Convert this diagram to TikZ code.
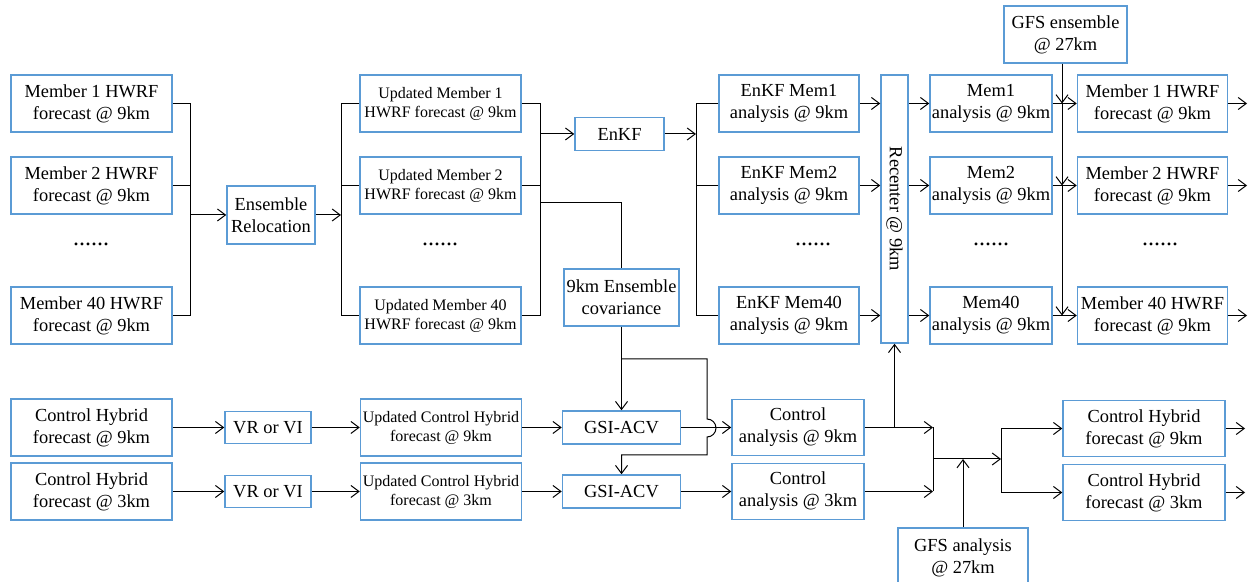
\documentclass[tikz,border=0pt]{standalone}
\usepackage{fontspec}
\setmainfont{Liberation Serif}
\newfontfamily\hbfont{Liberation Serif}
\usetikzlibrary{arrows.meta}
\definecolor{hbblue}{RGB}{91,155,213}
\tikzset{hbox/.style={draw=hbblue,line width=0.75pt,align=center,inner sep=0pt,
           font=\hbfont\fontsize{9.2}{11}\selectfont,minimum width=80.5pt,minimum height=28.5pt},
         hsmall/.style={hbox,font=\hbfont\fontsize{8}{9.5}\selectfont},
         hdots/.style={font=\hbfont\fontsize{12}{12}\selectfont},
         hline/.style={line width=0.5pt},
         harr/.style={hline,-{Straight Barb[length=4pt,width=6pt]}}}

\begin{document}
\begin{tikzpicture}[x=0.5pt,y=-0.5pt]
    \useasboundingbox (0,0) rectangle (1255,582);
    % ensemble rows
    \foreach \y/\n in {103.5/1,185.5/2,315.5/40}
      {\node[hbox] (mA\n) at (91.5,\y) {Member \n\ HWRF\\forecast @ 9km};
       \node[hsmall] (up\n) at (440.5,\y) {Updated Member \n\\HWRF forecast @ 9km};
       \node[hbox,minimum width=70pt] (ek\n) at (789,\y) {EnKF Mem\n\\analysis @ 9km};
       \node[hbox,minimum width=61pt] (ma\n) at (991,\y) {Mem\n\\analysis @ 9km};
       \node[hbox,minimum width=75pt] (mB\n) at (1152.5,\y) {Member \n\ HWRF\\forecast @ 9km};
       \coordinate (o\n) at (1247,\y);}
    \foreach \x/\n in {91/a,440/b,813/c,991/d,1160/e}
      {\node[hdots] (dt\n) at (\x,244) {......};}
    \node[hbox,minimum width=44pt,minimum height=29pt] (er) at (271,215) {Ensemble\\Relocation};
    \node[hbox,minimum width=44.5pt,minimum height=16.5pt] (enkf) at (619.5,134) {EnKF};
    \node[hbox,minimum width=57.5pt] (cov) at (621.5,297.5) {9km Ensemble\\covariance};
    \node[hbox,rotate=-90,minimum width=134pt,minimum height=13.5pt] (rc) at (894.5,209) {Recenter @ 9km};
    \node[hbox,minimum width=61.5pt] (ge) at (1065.5,34.5) {GFS ensemble\\@ 27km};
    % control rows
    \foreach \y/\k in {427.5/9,491.5/3}
      {\node[hbox] (ch\k) at (91.5,\y) {Control Hybrid\\forecast @ \k km};
       \node[hbox,minimum width=43pt,minimum height=16pt] (vr\k) at (268,\y) {VR or VI};
       \node[hsmall] (uc\k) at (441,\y) {Updated Control Hybrid\\forecast @ \k km};
       \node[hbox,minimum width=59pt,minimum height=16.5pt] (gs\k) at (621.5,\y) {GSI-ACV};
       \node[hbox,minimum width=66pt,minimum height=28pt] (ca\k) at (798,\y) {Control\\analysis @ \k km};
       \node[hbox,minimum width=81pt,minimum height=28pt] (cb\k) at (1144,\y+1) {Control Hybrid\\forecast @ \k km};
       \coordinate (p\k) at (1245,\y+1);
       \draw[harr] (ch\k) -- (vr\k); \draw[harr] (vr\k) -- (uc\k);
       \draw[harr] (uc\k) -- (gs\k); \draw[harr] (gs\k) -- (ca\k);
       \draw[harr] (cb\k) -- (p\k);}
    \node[hbox,minimum width=65pt,minimum height=29.5pt] (ga) at (963,557.5) {GFS analysis\\@ 27km};
    % junctions
    \coordinate (jA) at (190,215); \coordinate (jB) at (341,215);
    \coordinate (jC) at (540,134); \coordinate (jD) at (540,202.5);
    \coordinate (jE) at (696,134); \coordinate (gx) at (1062,0);
    \coordinate (jF) at (621.5,359); \coordinate (jG) at (707,359);
    \coordinate (jH) at (933,459); \coordinate (jI) at (1001,459);
    % ensemble connectors
    \draw[hline] (mA1.east) -- (mA1.east -| jA) |- (mA40.east); \draw[hline] (mA2.east) -- (mA2.east -| jA);
    \draw[harr] (jA) -- (er); \draw[harr] (er) -- (jB);
    \draw[hline] (up1.west) -- (up1.west -| jB) |- (up40.west); \draw[hline] (up2.west) -- (up2.west -| jB);
    \draw[hline] (up1.east) -- (up1.east -| jC) |- (up40.east); \draw[hline] (up2.east) -- (up2.east -| jC);
    \draw[harr] (jC) -- (enkf); \draw[hline] (jD) -| (cov.north);
    \draw[harr] (enkf) -- (jE);
    \draw[hline] (ek1.west) -- (ek1.west -| jE) |- (ek40.west); \draw[hline] (ek2.west) -- (ek2.west -| jE);
    \foreach \n in {1,2,40}
      {\draw[harr] (ek\n.east) -- (ek\n.east -| rc.south);
       \draw[harr] (ek\n.east -| rc.north) -- (ma\n.west);
       \draw[harr] (ma\n) -- (mB\n); \draw[harr] (mB\n) -- (o\n);}
    \draw[harr] (ge.south -| gx) -- (ma1.east -| gx);
    \draw[harr] (ma1.east -| gx) -- (ma2.east -| gx);
    \draw[harr] (ma2.east -| gx) -- (ma40.east -| gx);
    % covariance to GSI
    \draw[hline] (cov.south) -- (jF); \draw[harr] (jF) -- (gs9.north);
    \draw[harr] (jF) -- (jG) -- (707,419) arc[start angle=-90,end angle=90,radius=9] -- (707,455) -| (gs3.north);
    % control connectors
    \draw[harr] (ca9.east) -- (ca9.east -| jH); \draw[harr] (ca3.east) -- (ca3.east -| jH);
    \draw[hline] (ca9.east -| jH) -- (ca3.east -| jH);
    \draw[harr] (ca9.east -| rc.east) -- (rc.east);
    \draw[harr] (jH) -- (jI); \draw[harr] (ga.north) -- (ga.north |- jH);
    \draw[harr] (jI) |- (cb9.west); \draw[harr] (jI) |- (cb3.west);
\end{tikzpicture}
\end{document}
